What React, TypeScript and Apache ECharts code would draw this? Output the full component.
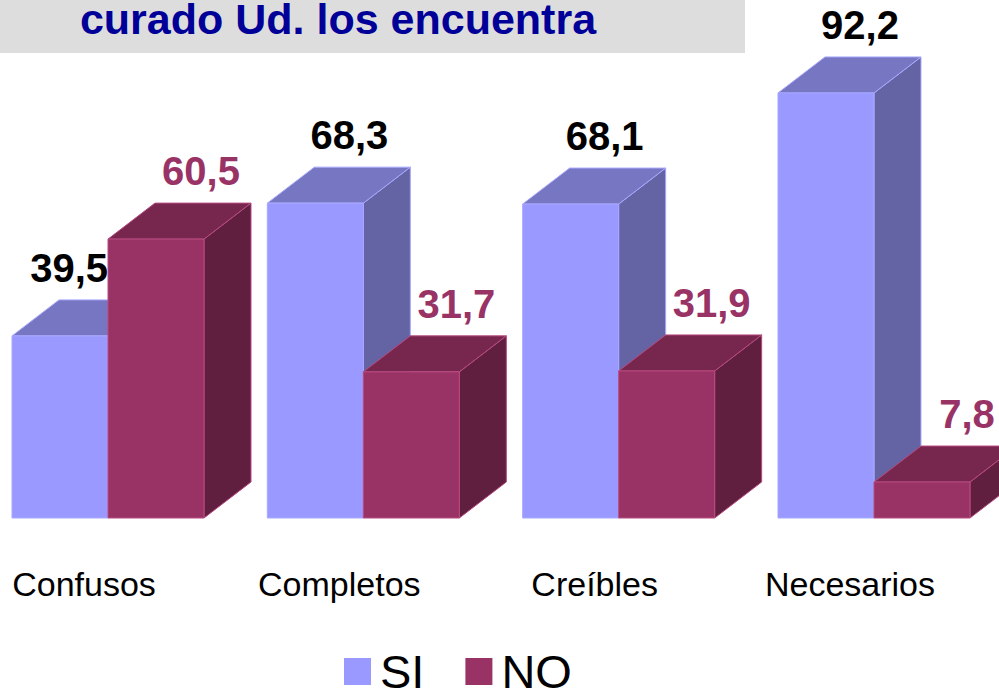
import React, { useEffect, useRef } from "react";
import * as echarts from "echarts";

const categories = ["Confusos", "Completos", "Creíbles", "Necesarios"];
const siValues = [39.5, 68.3, 68.1, 92.2];
const noValues = [60.5, 31.7, 31.9, 7.8];
const seriesNames = ["SI", "NO"];
const titleText = "curado Ud. los encuentra";

const FONT = "'Liberation Sans', Arial, sans-serif";

const palette = {
  SI: { front: "#9999FF", top: "#7676C2", side: "#6464A4", edge: "#A8A8FF", label: "#000000", labelDx: 34 },
  NO: { front: "#993366", top: "#77264D", side: "#611F40", edge: "#B84A80", label: "#993366", labelDx: 45 },
};

function makeRenderItem(which: "SI" | "NO") {
  const pal = palette[which];
  return (params: any, api: any) => {
    const idx = api.value(0);
    const v = api.value(1);
    const base = api.coord([idx, 0]);
    const top = api.coord([idx, v]);
    const band = api.size([1, 0])[0];
    const bw = (band * 96) / 255.33;
    const dx = (bw * 47) / 96;
    const dy = (bw * 36) / 96;
    const x0 = base[0] + (which === "SI" ? -bw : 0);
    const x1 = x0 + bw;
    const yb = base[1];
    const yt = top[1];
    const edge = { stroke: pal.edge, lineWidth: 1 };
    const children: any[] = [
      {
        type: "polygon",
        shape: { points: [[x1, yt], [x1 + dx, yt - dy], [x1 + dx, yb - dy], [x1, yb]] },
        style: { fill: pal.side, ...edge },
      },
      {
        type: "polygon",
        shape: { points: [[x0, yt], [x0 + dx, yt - dy], [x1 + dx, yt - dy], [x1, yt]] },
        style: { fill: pal.top, ...edge },
      },
      {
        type: "rect",
        shape: { x: x0, y: yt, width: bw, height: yb - yt },
        style: { fill: pal.front, ...edge },
      },
    ];
    const label = String(v).replace(".", ",");
    let lx = x0 + bw / 2 + pal.labelDx;
    let align = "center";
    if (which === "SI" && noValues[idx] > v) {
      lx = x1;
      align = "right";
    }
    children.push({
      type: "text",
      style: {
        x: lx,
        y: yt - dy - 32,
        text: label,
        fill: pal.label,
        font: `bold 40px ${FONT}`,
        align,
        verticalAlign: "middle",
      },
    });
    if (which === "SI") {
      children.push({
        type: "text",
        style: {
          x: base[0] - 24,
          y: yb + 66,
          text: categories[idx],
          fill: "#000000",
          font: `34px ${FONT}`,
          align: "center",
          verticalAlign: "middle",
        },
      });
    }
    return { type: "group", children };
  };
}

export default function App() {
  const ref = useRef<HTMLDivElement>(null);
  useEffect(() => {
    document.body.style.margin = "0";
    const chart = echarts.init(ref.current!, null, { renderer: "svg" });
    chart.setOption({
      animation: false,
      backgroundColor: "#FFFFFF",
      grid: { left: 0, width: 999, top: 57, height: 461 },
      xAxis: {
        type: "value",
        min: -108 / 255.33,
        max: 891 / 255.33,
        show: false,
      },
      yAxis: { type: "value", min: 0, max: 100, show: false },
      legend: {
        data: seriesNames,
        left: 344,
        top: 648,
        padding: 0,
        itemWidth: 27,
        itemHeight: 27,
        itemGap: 41,
        icon: "rect",
        textStyle: { fontSize: 47, lineHeight: 40, color: "#000000", fontFamily: FONT, padding: [0, 0, 0, 4] },
      },
      graphic: [
        { type: "rect", shape: { x: 0, y: 0, width: 745, height: 53 }, style: { fill: "#DDDDDD" }, z: 0 },
        {
          type: "text",
          style: {
            x: 338,
            y: 19,
            text: titleText,
            fill: "#000099",
            font: `bold 43px ${FONT}`,
            align: "center",
            verticalAlign: "middle",
          },
          z: 1,
        },
      ],
      series: [
        {
          type: "custom",
          name: "SI",
          renderItem: makeRenderItem("SI"),
          itemStyle: { color: palette.SI.front },
          data: siValues.map((v, i) => [i, v]),
          encode: { x: 0, y: 1 },
          clip: false,
        },
        {
          type: "custom",
          name: "NO",
          renderItem: makeRenderItem("NO"),
          itemStyle: { color: palette.NO.front },
          data: noValues.map((v, i) => [i, v]),
          encode: { x: 0, y: 1 },
          clip: false,
        },
      ],
    });
    return () => chart.dispose();
  }, []);
  return <div ref={ref} style={{ width: 999, height: 690 }} />;
}
